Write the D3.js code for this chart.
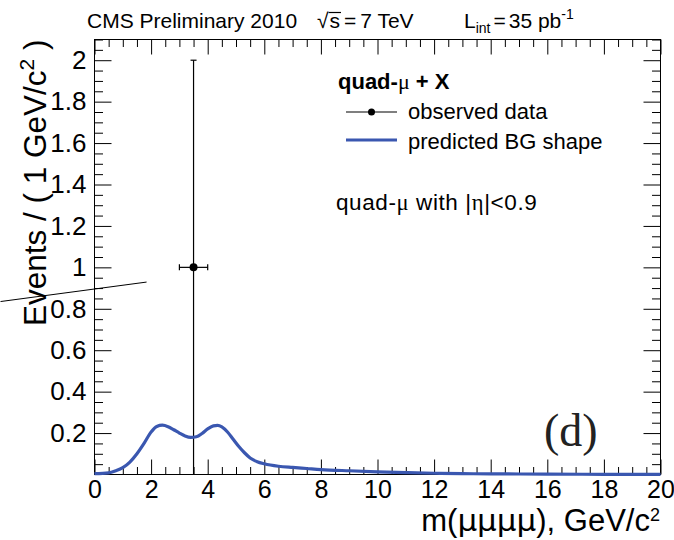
<!DOCTYPE html>
<html>
<head>
<meta charset="utf-8">
<script src="https://cdn.jsdelivr.net/npm/d3@7/dist/d3.min.js"></script>
<style>
  html, body { margin: 0; padding: 0; background: #fff; }
  svg { display: block; }
  svg { font-family: "Liberation Sans", Arial, Helvetica, sans-serif; }
  text { fill: #000; }
</style>
</head>
<body>
<svg id="chart" width="674" height="540"></svg>
<script>
// ---------------- data ----------------
const bgMass = [0, 0.5, 0.75, 1.0, 1.25, 1.5, 1.75, 2.0, 2.2, 2.4, 2.6, 2.8, 3.0, 3.2, 3.4, 3.6, 3.8, 4.0, 4.2, 4.35, 4.5, 4.7, 4.9, 5.1, 5.3, 5.5, 5.75, 6.0, 6.5, 7.0, 7.5, 8.0, 9.0, 10, 11, 12, 13, 14, 16, 18, 20];
const bgValue = [0.004, 0.008, 0.018, 0.033, 0.06, 0.1, 0.15, 0.205, 0.232, 0.238, 0.231, 0.216, 0.2, 0.186, 0.179, 0.182, 0.198, 0.22, 0.235, 0.237, 0.23, 0.205, 0.17, 0.135, 0.105, 0.08, 0.062, 0.052, 0.04, 0.034, 0.029, 0.024, 0.018, 0.013, 0.009, 0.006, 0.004, 0.003, 0.002, 0.001, 0.001];

const obsMass = [3.5];
const obsValue = [1];
const obsErrX = [0.5];
const obsErrY = [1];

const xTicks = [0, 2, 4, 6, 8, 10, 12, 14, 16, 18, 20];
const yTicks = [0.2, 0.4, 0.6, 0.8, 1, 1.2, 1.4, 1.6, 1.8, 2];
const yTickLabels = ["0.2", "0.4", "0.6", "0.8", "1", "1.2", "1.4", "1.6", "1.8", "2"];
const xDomain = [0, 20];
const yDomain = [0, 2.1];

// stray annotation stroke seen in the reference (data units)
const strayX = [-3.32, 1.84];
const strayY = [0.835, 0.929];

// ---------------- layout ----------------
const svg = d3.select("#chart");
const L = 94.5, R = 660.5, T = 39.5, B = 474.5;
const x = d3.scaleLinear().domain(xDomain).range([L, R]);
const y = d3.scaleLinear().domain(yDomain).range([B, T]);
const blue = "#3a57b0";
const SERIF = "'Liberation Serif', 'Times New Roman', serif";
const GREEK = "'DejaVu Sans', sans-serif";

const xMinor = d3.range(0, 20.001, 0.5).filter(v => Math.abs(v / 2 - Math.round(v / 2)) > 1e-6);
const yMinor = d3.range(0, 2.1001, 0.05).filter(v => Math.abs(v / 0.2 - Math.round(v / 0.2)) > 1e-6);

function styleAxis(g) {
  g.select(".domain").remove();
  g.selectAll(".tick line").attr("stroke", "#000").attr("stroke-width", 1);
}
function styleLabels(g) {
  g.selectAll("text").attr("font-size", 25).attr("font-family", null).attr("fill", "#000");
}

// bottom
svg.append("g").attr("transform", `translate(0,${B})`)
  .call(d3.axisBottom(x).tickValues(xTicks).tickFormat(d3.format("d")).tickSizeInner(-15).tickSizeOuter(0).tickPadding(6))
  .call(styleAxis).call(styleLabels);
svg.append("g").attr("transform", `translate(0,${B})`)
  .call(d3.axisBottom(x).tickValues(xMinor).tickFormat("").tickSizeInner(-7.5).tickSizeOuter(0))
  .call(styleAxis);
// top
svg.append("g").attr("transform", `translate(0,${T})`)
  .call(d3.axisTop(x).tickValues(xTicks).tickFormat("").tickSizeInner(-15).tickSizeOuter(0))
  .call(styleAxis);
svg.append("g").attr("transform", `translate(0,${T})`)
  .call(d3.axisTop(x).tickValues(xMinor).tickFormat("").tickSizeInner(-7.5).tickSizeOuter(0))
  .call(styleAxis);
// left
svg.append("g").attr("transform", `translate(${L},0)`)
  .call(d3.axisLeft(y).tickValues(yTicks).tickFormat((d, i) => yTickLabels[i]).tickSizeInner(-17).tickSizeOuter(0).tickPadding(8))
  .call(styleAxis).call(g => g.selectAll("text").attr("font-size", 26).attr("font-family", null).attr("fill", "#000"));
svg.append("g").attr("transform", `translate(${L},0)`)
  .call(d3.axisLeft(y).tickValues(yMinor).tickFormat("").tickSizeInner(-8.5).tickSizeOuter(0))
  .call(styleAxis);
// right
svg.append("g").attr("transform", `translate(${R},0)`)
  .call(d3.axisRight(y).tickValues(yTicks).tickFormat("").tickSizeInner(-17).tickSizeOuter(0))
  .call(styleAxis);
svg.append("g").attr("transform", `translate(${R},0)`)
  .call(d3.axisRight(y).tickValues(yMinor).tickFormat("").tickSizeInner(-8.5).tickSizeOuter(0))
  .call(styleAxis);

// frame
svg.append("rect").attr("x", L).attr("y", T).attr("width", R - L).attr("height", B - T)
  .attr("fill", "none").attr("stroke", "#000").attr("stroke-width", 1);

// observed data (error bars + marker)
const obs = obsMass.map((m, i) => ({ m, v: obsValue[i], ex: obsErrX[i], ey: obsErrY[i] }));
const og = svg.append("g").attr("stroke", "#000").attr("stroke-width", 1.2);
obs.forEach(d => {
  og.append("line").attr("x1", x(d.m)).attr("x2", x(d.m)).attr("y1", y(d.v - d.ey)).attr("y2", y(d.v + d.ey));
  og.append("line").attr("x1", x(d.m) - 3).attr("x2", x(d.m) + 3).attr("y1", y(d.v + d.ey)).attr("y2", y(d.v + d.ey));
  og.append("line").attr("x1", x(d.m - d.ex)).attr("x2", x(d.m + d.ex)).attr("y1", y(d.v)).attr("y2", y(d.v));
  og.append("line").attr("x1", x(d.m - d.ex)).attr("x2", x(d.m - d.ex)).attr("y1", y(d.v) - 3).attr("y2", y(d.v) + 3);
  og.append("line").attr("x1", x(d.m + d.ex)).attr("x2", x(d.m + d.ex)).attr("y1", y(d.v) - 3).attr("y2", y(d.v) + 3);
  svg.append("circle").attr("cx", x(d.m)).attr("cy", y(d.v)).attr("r", 4).attr("fill", "#000");
});

// background curve
const bg = bgMass.map((m, i) => [m, bgValue[i]]);
svg.append("path").datum(bg)
  .attr("d", d3.line().x(d => x(d[0])).y(d => y(d[1])).curve(d3.curveMonotoneX))
  .attr("fill", "none").attr("stroke", blue).attr("stroke-width", 3.2).attr("stroke-linejoin", "round");

// stray stroke
svg.append("line")
  .attr("x1", x(strayX[0])).attr("y1", y(strayY[0]))
  .attr("x2", x(strayX[1])).attr("y2", y(strayY[1]))
  .attr("stroke", "#000").attr("stroke-width", 1);

// title
const title = svg.append("text").attr("x", 87).attr("y", 28).attr("font-size", 21);
title.append("tspan").text("CMS Preliminary 2010");
title.append("tspan").attr("x", 317).text("\u221A");
const sT = title.append("tspan").attr("dx", 1).text("s");
title.append("tspan").attr("dx", 4).text("=");
title.append("tspan").attr("dx", 4).text("7 TeV");
title.append("tspan").attr("x", 464).text("L");
title.append("tspan").attr("font-size", 14).attr("dy", 5).text("int");
title.append("tspan").attr("dy", -5).attr("dx", 3).text("=");
title.append("tspan").attr("dx", 3).text("35 pb");
title.append("tspan").attr("font-size", 14).attr("dy", -9).text("-1");
try {
  const n = sT.node();
  const p0 = n.getStartPositionOfChar(0), p1 = n.getEndPositionOfChar(0);
  svg.append("line").attr("x1", p0.x - 1).attr("x2", p1.x + 1).attr("y1", 12.5).attr("y2", 12.5)
    .attr("stroke", "#000").attr("stroke-width", 1.2);
} catch (e) {}

// legend
svg.append("text").attr("x", 338).attr("y", 89).attr("font-size", 22).attr("font-weight", "bold")
  .call(t => { t.append("tspan").text("quad-"); t.append("tspan").style("font-family", SERIF).attr("font-weight", "normal").text("\u03BC"); t.append("tspan").text(" + X"); });
svg.append("line").attr("x1", 346).attr("x2", 397).attr("y1", 112).attr("y2", 112).attr("stroke", "#000").attr("stroke-width", 1.2);
svg.append("circle").attr("cx", 371.5).attr("cy", 112).attr("r", 3.5).attr("fill", "#000");
svg.append("text").attr("x", 408).attr("y", 119).attr("font-size", 22).text("observed data");
svg.append("line").attr("x1", 346).attr("x2", 397).attr("y1", 140).attr("y2", 140).attr("stroke", blue).attr("stroke-width", 3);
svg.append("text").attr("x", 408).attr("y", 149).attr("font-size", 22).text("predicted BG shape");
svg.append("text").attr("x", 336).attr("y", 210).attr("font-size", 22.5).style("letter-spacing", "0.6px")
  .call(t => { t.append("tspan").text("quad-"); t.append("tspan").style("font-family", SERIF).text("\u03BC"); t.append("tspan").text(" with |"); t.append("tspan").style("font-family", SERIF).text("\u03B7"); t.append("tspan").text("|<0.9"); });

// panel label
svg.append("text").attr("x", 544).attr("y", 446).attr("font-size", 46)
  .style("font-family", SERIF).style("fill", "#222").text("(d)");

// axis titles
const xt = svg.append("text").attr("x", 660).attr("y", 531).attr("font-size", 31).attr("text-anchor", "end");
xt.append("tspan").text("m(");
xt.append("tspan").style("font-family", GREEK).text("\u03BC\u03BC\u03BC\u03BC");
xt.append("tspan").text("), GeV/c");
xt.append("tspan").attr("font-size", 18).attr("dy", -10).text("2");

const yt = svg.append("text").attr("transform", `translate(46,${T}) rotate(-90)`).attr("font-size", 31.5).attr("text-anchor", "end");
yt.append("tspan").text("Events / ( 1 GeV/c");
yt.append("tspan").attr("font-size", 21).attr("dy", -12).text("2");
yt.append("tspan").attr("dy", 12).text(" )");
</script>
</body>
</html>
